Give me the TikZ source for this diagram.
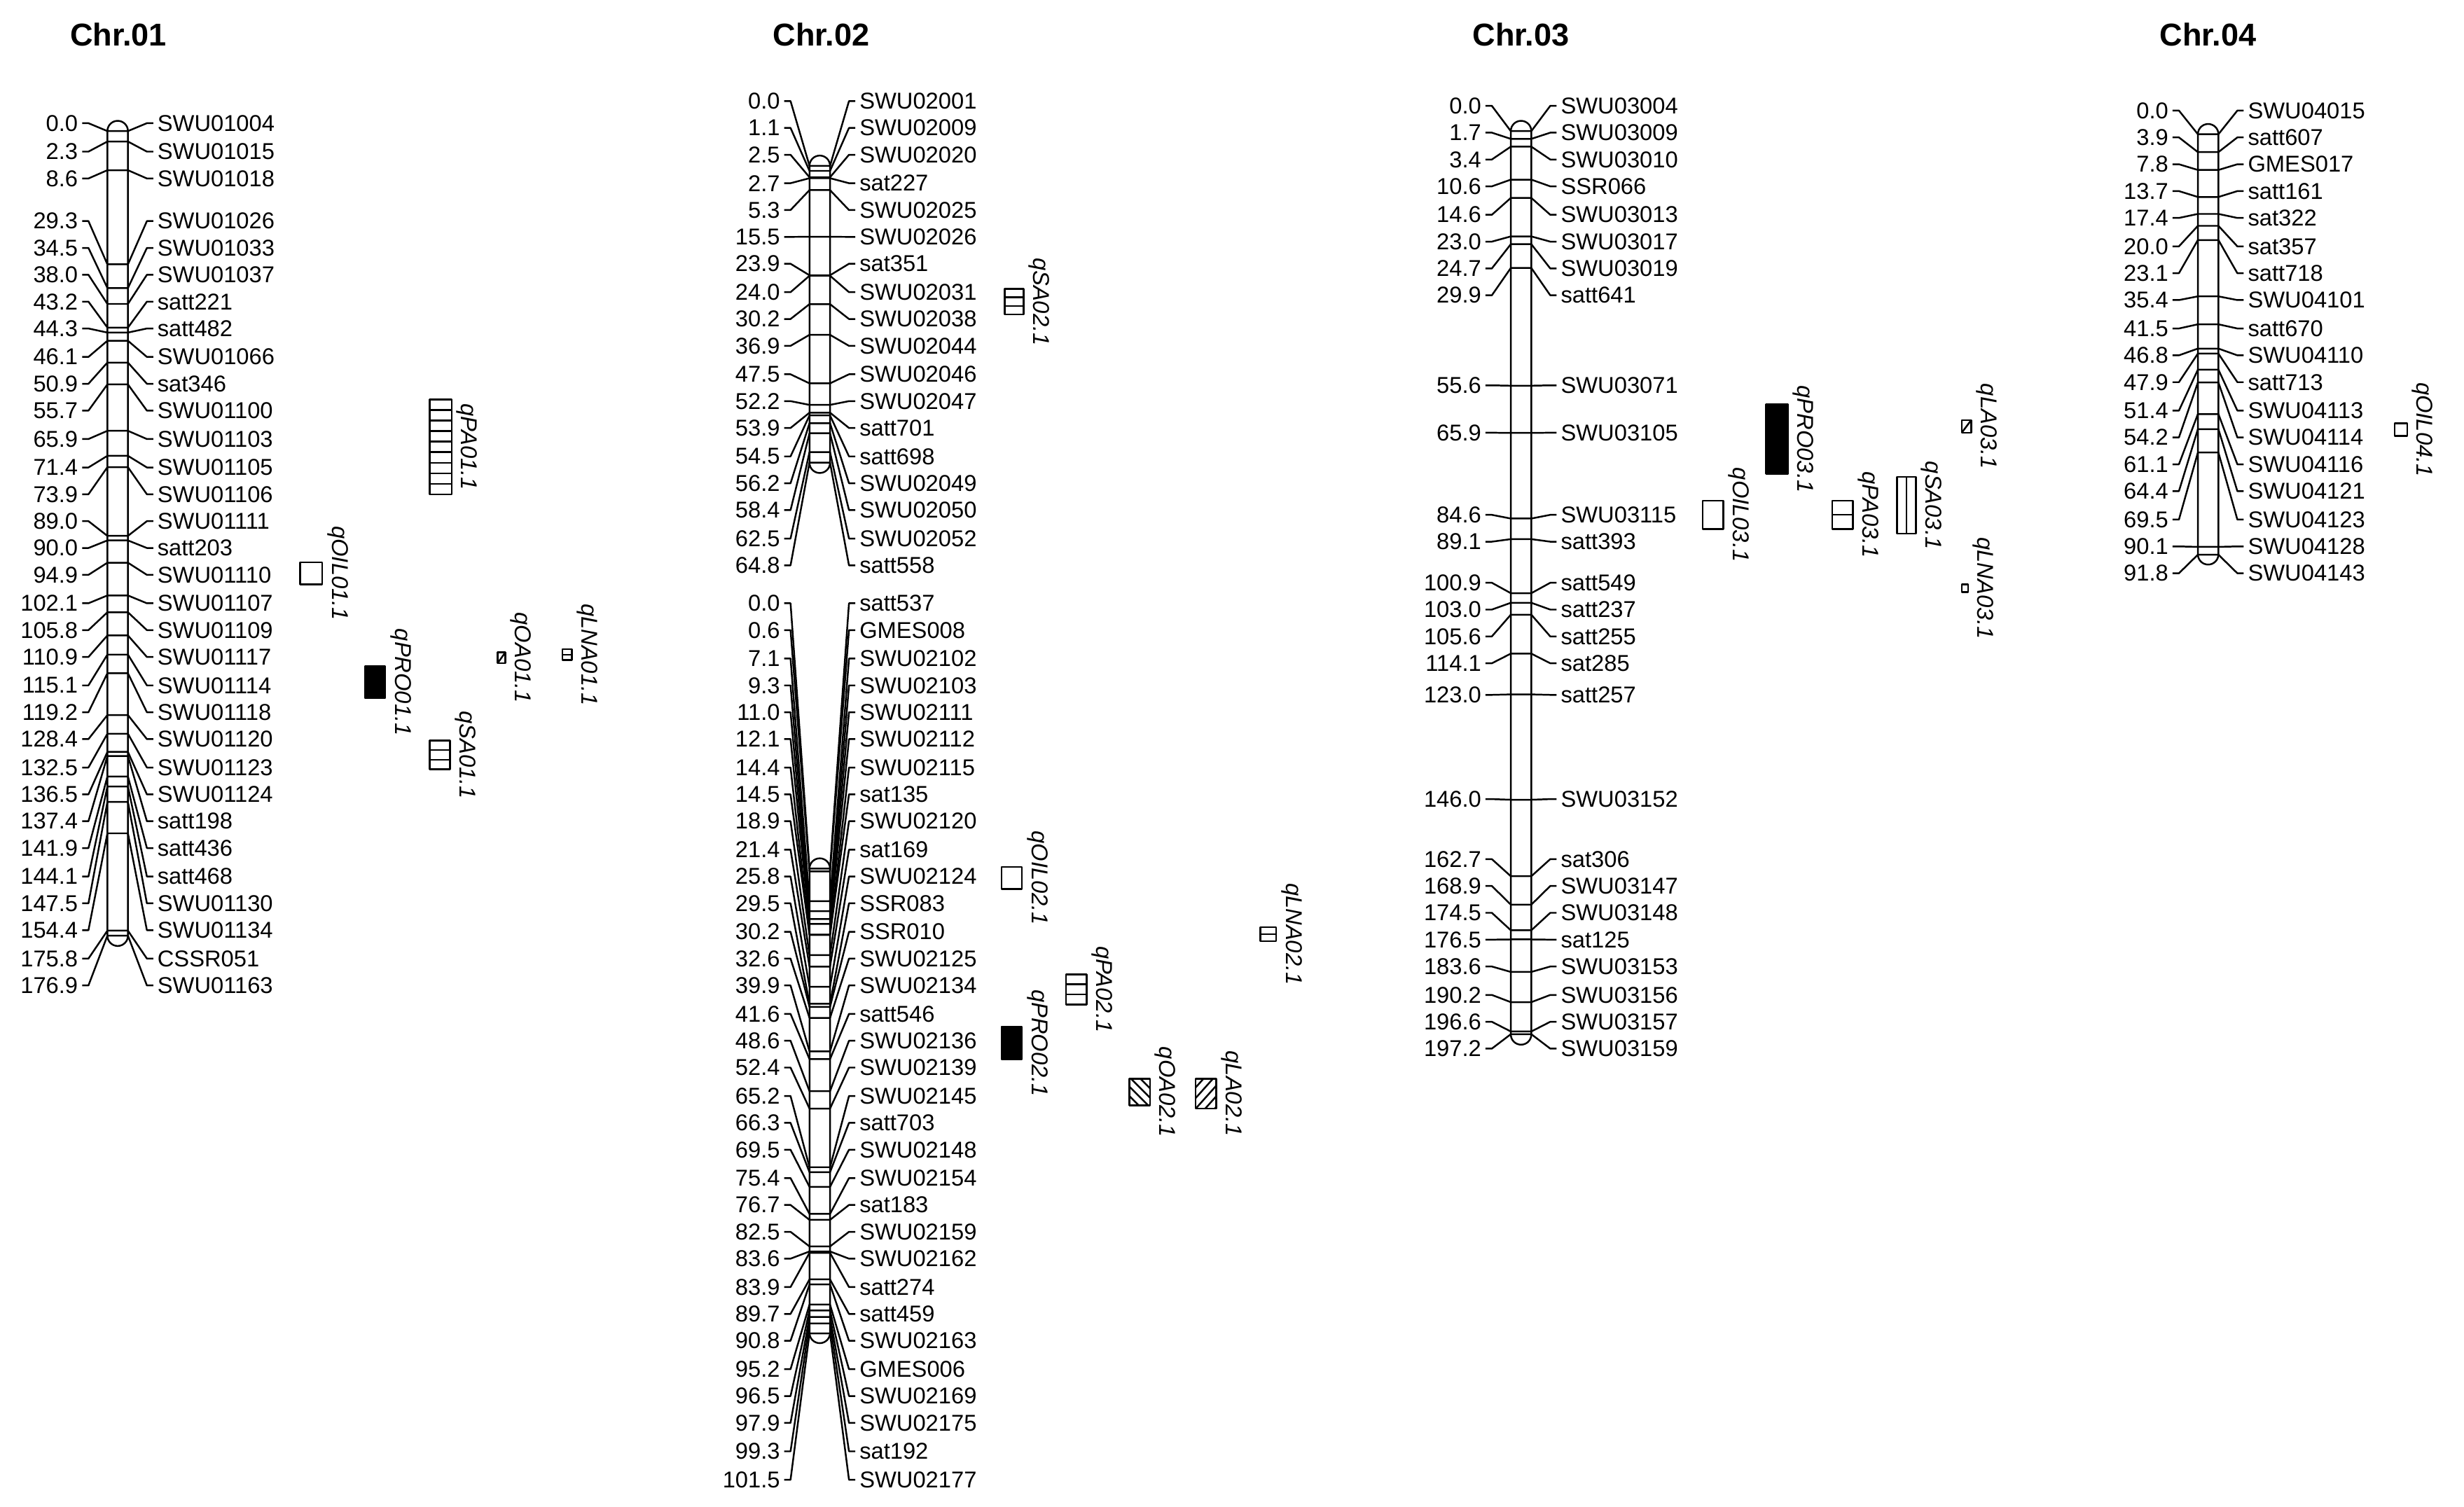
\documentclass[tikz,border=0pt]{standalone}
\usepackage{fontspec}
\setmainfont{Liberation Sans}
\begin{document}
\begin{tikzpicture}[x=1pt,y=-1pt,
  ln/.style={line width=1.1pt,line join=round},
  lab/.style={font=\fontsize{14.5}{16}\selectfont,inner sep=0pt},
  ttl/.style={font=\fontsize{20}{22}\selectfont\bfseries,inner sep=0pt},
  qlab/.style={font=\fontsize{14.5}{16}\selectfont\itshape,inner sep=0pt,rotate=-90,anchor=south}]
\useasboundingbox (0,0) rectangle (1560,954);
\newcommand\chrom[4]{%
 \foreach \c/\ly/\num/\name in {#4}{
   \pgfmathsetmacro\my{#2+#3*\c}
   \draw[ln] (#1-22.5,\ly) -- (#1-18.5,\ly) -- (#1-6.5,\my) -- (#1+6.5,\my) -- (#1+18.5,\ly) -- (#1+22.5,\ly);
   \node[lab,anchor=east] (l\name) at (#1-25,\ly) {\num};
   \node[lab,anchor=west] (r\name) at (#1+25,\ly) {\name};
 }}
\newcommand\chrbar[3]{\draw[ln,rounded corners=6.5pt] (#1-6.5,#2-6.5) rectangle (#1+6.5,#3+6.5);}
% qtl box: x1 y1 x2 y2 label name
\newcommand\qtl[6]{%
  \node[qlab] (#6) at (#3+3,{(#2+#4)/2}) {#5};
  \draw[ln] (#1,#2) rectangle (#3,#4);}
\newcommand\hls[5]{\foreach \i in {1,...,#5}{\draw[ln] (#1,{#2+\i*(#4-#2)/(#5+1)}) -- (#3,{#2+\i*(#4-#2)/(#5+1)});}}
\newcommand\hatch[5]{\begin{scope}\clip (#1,#2) rectangle (#3,#4);
  \foreach \t in {-30,-24,...,30}{\draw[ln] (#1+\t,#4) -- (#1+\t+#5,#2);}\end{scope}}

\node[ttl] (t1) at (75,22) {Chr.01};
\node[ttl] (t2) at (520,22) {Chr.02};
\node[ttl] (t3) at (963,22) {Chr.03};
\node[ttl] (t4) at (1398,22) {Chr.04};

% Chr.01
\chrbar{74.5}{83}{592.5}
\chrom{74.5}{83}{2.88}{0.0/78/0.0/SWU01004, 2.3/96/2.3/SWU01015, 8.6/113/8.6/SWU01018, 29.3/140/29.3/SWU01026, 34.5/157/34.5/SWU01033, 38.0/174/38.0/SWU01037, 43.2/191/43.2/satt221, 44.3/208/44.3/satt482, 46.1/226/46.1/SWU01066, 50.9/243/50.9/sat346, 55.7/260/55.7/SWU01100, 65.9/278/65.9/SWU01103, 71.4/296/71.4/SWU01105, 73.9/313/73.9/SWU01106, 89.0/330/89.0/SWU01111, 90.0/347/90.0/satt203, 94.9/364/94.9/SWU01110, 102.1/382/102.1/SWU01107, 105.8/399/105.8/SWU01109, 110.9/416/110.9/SWU01117, 115.1/434/115.1/SWU01114, 119.2/451/119.2/SWU01118, 128.4/468/128.4/SWU01120, 132.5/486/132.5/SWU01123, 136.5/503/136.5/SWU01124, 137.4/520/137.4/satt198, 141.9/537/141.9/satt436, 144.1/555/144.1/satt468, 147.5/572/147.5/SWU01130, 154.4/589/154.4/SWU01134, 175.8/607/175.8/CSSR051, 176.9/624/176.9/SWU01163}

% Chr.02 top
\chrbar{519}{105}{293}
\chrom{519}{105}{2.9}{0.0/64/0.0/SWU02001, 1.1/81/1.1/SWU02009, 2.5/98/2.5/SWU02020, 2.7/116/2.7/sat227, 5.3/133/5.3/SWU02025, 15.5/150/15.5/SWU02026, 23.9/167/23.9/sat351, 24.0/185/24.0/SWU02031, 30.2/202/30.2/SWU02038, 36.9/219/36.9/SWU02044, 47.5/237/47.5/SWU02046, 52.2/254/52.2/SWU02047, 53.9/271/53.9/satt701, 54.5/289/54.5/satt698, 56.2/306/56.2/SWU02049, 58.4/323/58.4/SWU02050, 62.5/341/62.5/SWU02052, 64.8/358/64.8/satt558}
% Chr.02 bottom
\chrbar{519}{550}{844}
\chrom{519}{550}{2.9}{0.0/382/0.0/satt537, 0.6/399/0.6/GMES008, 7.1/417/7.1/SWU02102, 9.3/434/9.3/SWU02103, 11.0/451/11.0/SWU02111, 12.1/468/12.1/SWU02112, 14.4/486/14.4/SWU02115, 14.5/503/14.5/sat135, 18.9/520/18.9/SWU02120, 21.4/538/21.4/sat169, 25.8/555/25.8/SWU02124, 29.5/572/29.5/SSR083, 30.2/590/30.2/SSR010, 32.6/607/32.6/SWU02125, 39.9/624/39.9/SWU02134, 41.6/642/41.6/satt546, 48.6/659/48.6/SWU02136, 52.4/676/52.4/SWU02139, 65.2/694/65.2/SWU02145, 66.3/711/66.3/satt703, 69.5/728/69.5/SWU02148, 75.4/746/75.4/SWU02154, 76.7/763/76.7/sat183, 82.5/780/82.5/SWU02159, 83.6/797/83.6/SWU02162, 83.9/815/83.9/satt274, 89.7/832/89.7/satt459, 90.8/849/90.8/SWU02163, 95.2/867/95.2/GMES006, 96.5/884/96.5/SWU02169, 97.9/901/97.9/SWU02175, 99.3/919/99.3/sat192, 101.5/937/101.5/SWU02177}

% Chr.03
\chrbar{963}{83}{655}
\chrom{963}{83}{2.9}{0.0/67/0.0/SWU03004, 1.7/84/1.7/SWU03009, 3.4/101/3.4/SWU03010, 10.6/118/10.6/SSR066, 14.6/136/14.6/SWU03013, 23.0/153/23.0/SWU03017, 24.7/170/24.7/SWU03019, 29.9/187/29.9/satt641, 55.6/244/55.6/SWU03071, 65.9/274/65.9/SWU03105, 84.6/326/84.6/SWU03115, 89.1/343/89.1/satt393, 100.9/369/100.9/satt549, 103.0/386/103.0/satt237, 105.6/403/105.6/satt255, 114.1/420/114.1/sat285, 123.0/440/123.0/satt257, 146.0/506/146.0/SWU03152, 162.7/544/162.7/sat306, 168.9/561/168.9/SWU03147, 174.5/578/174.5/SWU03148, 176.5/595/176.5/sat125, 183.6/612/183.6/SWU03153, 190.2/630/190.2/SWU03156, 196.6/647/196.6/SWU03157, 197.2/664/197.2/SWU03159}

% Chr.04
\chrbar{1398}{85}{351}
\chrom{1398}{85}{2.9}{0.0/70/0.0/SWU04015, 3.9/87/3.9/satt607, 7.8/104/7.8/GMES017, 13.7/121/13.7/satt161, 17.4/138/17.4/sat322, 20.0/156/20.0/sat357, 23.1/173/23.1/satt718, 35.4/190/35.4/SWU04101, 41.5/208/41.5/satt670, 46.8/225/46.8/SWU04110, 47.9/242/47.9/satt713, 51.4/260/51.4/SWU04113, 54.2/277/54.2/SWU04114, 61.1/294/61.1/SWU04116, 64.4/311/64.4/SWU04121, 69.5/329/69.5/SWU04123, 90.1/346/90.1/SWU04128, 91.8/363/91.8/SWU04143}

% QTLs Chr.01
\qtl{272}{253}{286}{313}{qPA01.1}{q1}\hls{272}{253}{286}{313}{8}
\qtl{190}{356}{204}{370}{qOIL01.1}{q2}
\fill (231,422) rectangle (244,442);\qtl{231}{422}{244}{442}{qPRO01.1}{q3}
\qtl{315}{413}{320}{420}{qOA01.1}{q4}\draw[ln] (315,420) -- (320,413);
\qtl{356}{411}{362}{418}{qLNA01.1}{q5}\hls{356}{411}{362}{418}{1}
\qtl{272}{469}{285}{487}{qSA01.1}{q6}\hls{272}{469}{285}{487}{2}
% Chr.02
\qtl{636}{183}{648}{199}{qSA02.1}{q7}\hls{636}{183}{648}{199}{2}
\qtl{634}{549}{647}{563}{qOIL02.1}{q8}
\qtl{675}{617}{688}{636}{qPA02.1}{q9}\hls{675}{617}{688}{636}{2}
\fill (634,650) rectangle (647,671);\qtl{634}{650}{647}{671}{qPRO02.1}{q10}
\hatch{715}{683}{728}{700}{-17}\qtl{715}{683}{728}{700}{qOA02.1}{q11}
\hatch{757}{683}{770}{702}{17}\qtl{757}{683}{770}{702}{qLA02.1}{q12}
\qtl{798}{587}{808}{596}{qLNA02.1}{q13}\hls{798}{587}{808}{596}{1}
% Chr.03
\fill (1118,256) rectangle (1132,300);\qtl{1118}{256}{1132}{300}{qPRO03.1}{q14}
\qtl{1078}{317}{1091}{335}{qOIL03.1}{q15}
\qtl{1160}{317}{1173}{335}{qPA03.1}{q16}\hls{1160}{317}{1173}{335}{1}
\qtl{1201}{302}{1213}{338}{qSA03.1}{q17}\draw[ln] (1207,302) -- (1207,338);
\qtl{1242}{266}{1248}{274}{qLA03.1}{q18}\draw[ln] (1242,274) -- (1248,266);
\qtl{1242}{370}{1246}{375}{qLNA03.1}{q19}
% Chr.04
\qtl{1516}{268}{1524}{276}{qOIL04.1}{q20}
\end{tikzpicture}
\end{document}
